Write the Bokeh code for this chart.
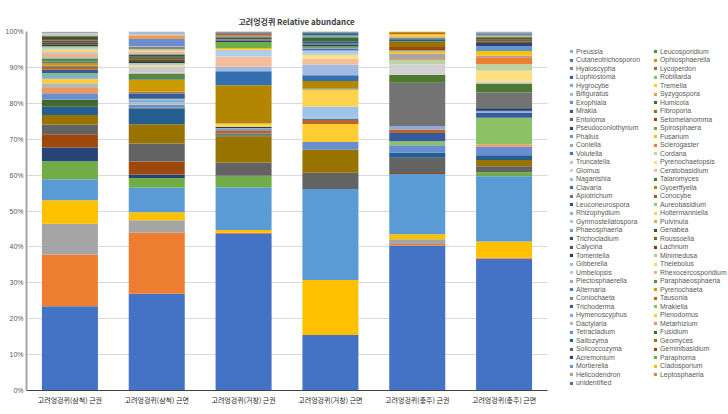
import numpy as np
from bokeh.plotting import figure
from bokeh.models import (ColumnDataSource, Legend, LegendItem, NumeralTickFormatter,
                          FixedTicker, Range1d, BoxAnnotation)
from bokeh.embed import file_html
from bokeh.resources import INLINE

samples = ["고려엉겅퀴(삼척) 근권", "고려엉겅퀴(삼척) 근면", "고려엉겅퀴(거창) 근권",
           "고려엉겅퀴(거창) 근면", "고려엉겅퀴(충주) 근권", "고려엉겅퀴(충주) 근면"]

# series in stacking order (bottom -> top)
genera = ["unidentified", "Leptosphaeria", "Helicodendron", "Cladosporium", "Mortierella",
          "Paraphoma", "Acremonium", "Geminibasidium", "Solicoccozyma", "Geomyces",
          "Saitozyma", "Fusidium", "Tetracladium", "Metarhizium", "Dactylaria",
          "Plenodomus", "Hymenoscyphus", "Mrakiella", "Trichoderma", "Tausonia",
          "Coniochaeta", "Pyrenochaeta", "Alternaria", "Paraphaeosphaeria", "Plectosphaerella",
          "Rhexocercosporidium", "Umbelopsis", "Thelebolus", "Gibberella", "Minimedusa",
          "Tomentella", "Lachnum", "Calycina", "Roussoella", "Trichocladium",
          "Genabea", "Phaeosphaeria", "Pulvinula", "Gymnostellatospora", "Holtermanniella",
          "Rhizophydium", "Aureobasidium", "Leuconeurospora", "Conocybe", "Apiotrichum",
          "Gyoerffyella", "Clavaria", "Talaromyces", "Naganishia", "Ceratobasidium",
          "Glomus", "Pyrenochaetopsis", "Truncatella", "Cordana", "Volutella",
          "Sclerogaster", "Coniella", "Fusarium", "Phallus", "Spirosphaera",
          "Pseudoconiothyrium", "Setomelanomma", "Entoloma", "Fibroporia", "Mrakia",
          "Humicola", "Exophiala", "Syzygospora", "Bifiguratus", "Tremella",
          "Hygrocybe", "Robillarda", "Lophiostoma", "Lycoperdon", "Hyaloscypha",
          "Ophiosphaerella", "Cutaneotrichosporon", "Leucosporidium", "Preussia"]

palette54 = ["#4472C4", "#ED7D31", "#A5A5A5", "#FFC000", "#5B9BD5", "#70AD47",
             "#264478", "#9E480E", "#636363", "#997300", "#255E91", "#43682B",
             "#698ED0", "#F1975A", "#B7B7B7", "#FFCD33", "#7CAFDD", "#8CC168",
             "#365B9D", "#BE6427", "#848484", "#CC9A00", "#497CAA", "#5A8A39",
             "#8FAADC", "#F4B183", "#C9C9C9", "#FFD966", "#9DC3E6", "#A9D18E",
             "#223962", "#773E18", "#535353", "#806000", "#2E4E6B", "#385724",
             "#7C9CD6", "#F2A46F", "#C0C0C0", "#FFD34D", "#8CB9E2", "#9BC67E",
             "#305089", "#A65822", "#737373", "#B38600", "#3370B0", "#4E7932",
             "#A2B9E2", "#F6BE98", "#D2D2D2", "#FFE080", "#ADCDEA", "#B8D6A3"]

samcheok_root = {
    "unidentified": 23.3, "Leptosphaeria": 14.3, "Helicodendron": 8.5, "Cladosporium": 6.5,
    "Mortierella": 5.8, "Paraphoma": 5.0, "Acremonium": 3.8, "Geminibasidium": 3.7,
    "Solicoccozyma": 2.7, "Geomyces": 2.6, "Saitozyma": 2.3, "Fusidium": 1.9,
    "Tetracladium": 1.8, "Metarhizium": 1.5, "Dactylaria": 1.3, "Plenodomus": 1.2,
    "Hymenoscyphus": 1.1, "Mrakiella": 0.5, "Trichoderma": 0.9, "Tausonia": 0.8,
    "Coniochaeta": 0.4, "Pyrenochaeta": 0.7, "Alternaria": 0.4, "Paraphaeosphaeria": 0.8,
    "Plectosphaerella": 0.4, "Rhexocercosporidium": 0.9, "Umbelopsis": 0.5, "Thelebolus": 0.7,
    "Gibberella": 0.4, "Minimedusa": 0.5, "Tomentella": 0.5, "Lachnum": 0.5,
    "Calycina": 0.6, "Roussoella": 0.4, "Trichocladium": 0.3, "Genabea": 0.5,
    "Phaeosphaeria": 0.2, "Pulvinula": 0.2, "Gymnostellatospora": 0.2, "Holtermanniella": 0.1,
    "Rhizophydium": 0.1, "Aureobasidium": 0.1, "Conocybe": 0.1, "Clavaria": 0.1,
    "Naganishia": 0.1, "Truncatella": 0.1}

samcheok_surface = {
    "unidentified": 26.9, "Leptosphaeria": 17.0, "Helicodendron": 3.5, "Cladosporium": 2.2,
    "Mortierella": 6.8, "Paraphoma": 2.7, "Acremonium": 1.0, "Geminibasidium": 3.6,
    "Solicoccozyma": 5.0, "Geomyces": 5.4, "Saitozyma": 4.4, "Fusidium": 0.2,
    "Tetracladium": 0.8, "Metarhizium": 0.1, "Dactylaria": 0.4, "Plenodomus": 0.1,
    "Hymenoscyphus": 0.9, "Mrakiella": 0.2, "Trichoderma": 1.4, "Tausonia": 0.2,
    "Coniochaeta": 0.3, "Pyrenochaeta": 3.4, "Alternaria": 0.2, "Paraphaeosphaeria": 1.4,
    "Plectosphaerella": 0.2, "Rhexocercosporidium": 0.2, "Umbelopsis": 1.6, "Thelebolus": 0.4,
    "Gibberella": 0.3, "Minimedusa": 0.3, "Tomentella": 0.3, "Lachnum": 0.3,
    "Calycina": 0.5, "Roussoella": 0.4, "Trichocladium": 0.3, "Genabea": 0.6,
    "Phaeosphaeria": 0.2, "Pulvinula": 0.4, "Gymnostellatospora": 0.2, "Holtermanniella": 0.3,
    "Rhizophydium": 0.2, "Aureobasidium": 0.2, "Leuconeurospora": 0.2, "Conocybe": 0.3,
    "Clavaria": 0.1, "Glomus": 0.1, "Exophiala": 2.1, "Syzygospora": 1.0,
    "Bifiguratus": 0.3, "Tremella": 0.2, "Hygrocybe": 0.3, "Preussia": 0.3}

geochang_root = {
    "unidentified": 43.6, "Leptosphaeria": 0.3, "Helicodendron": 0.1, "Cladosporium": 0.7,
    "Mortierella": 11.9, "Paraphoma": 3.1, "Acremonium": 0.1, "Geminibasidium": 0.1,
    "Solicoccozyma": 3.6, "Geomyces": 7.3, "Saitozyma": 0.2, "Fusidium": 0.4,
    "Trichoderma": 0.2, "Tausonia": 0.8, "Alternaria": 0.4, "Plectosphaerella": 0.3,
    "Tomentella": 0.3, "Holtermanniella": 1.0, "Gyoerffyella": 10.6, "Clavaria": 3.9,
    "Naganishia": 1.3, "Ceratobasidium": 2.7, "Glomus": 0.2, "Truncatella": 1.9,
    "Fusarium": 0.4, "Spirosphaera": 1.7, "Pseudoconiothyrium": 0.3, "Entoloma": 0.3,
    "Fibroporia": 0.2, "Mrakia": 0.4, "Humicola": 0.2, "Syzygospora": 0.2,
    "Lophiostoma": 0.2, "Lycoperdon": 0.4, "Hyaloscypha": 0.5, "Cutaneotrichosporon": 0.2}

geochang_surface = {
    "unidentified": 15.5, "Cladosporium": 15.3, "Mortierella": 25.4, "Solicoccozyma": 4.5,
    "Geomyces": 6.4, "Tetracladium": 2.2, "Plenodomus": 5.0, "Tausonia": 1.1,
    "Alternaria": 0.4, "Plectosphaerella": 0.3, "Gibberella": 3.1, "Holtermanniella": 4.7,
    "Apiotrichum": 0.3, "Gyoerffyella": 2.1, "Clavaria": 1.6, "Naganishia": 3.0,
    "Ceratobasidium": 1.6, "Pyrenochaetopsis": 1.1, "Truncatella": 1.2, "Volutella": 0.4,
    "Coniella": 0.3, "Spirosphaera": 0.4, "Pseudoconiothyrium": 0.5, "Entoloma": 0.4,
    "Mrakia": 0.6, "Humicola": 0.9, "Exophiala": 0.3, "Robillarda": 0.4,
    "Lophiostoma": 0.4, "Cutaneotrichosporon": 0.4, "Leucosporidium": 0.3}

chungju_root = {
    "unidentified": 40.4, "Leptosphaeria": 0.4, "Helicodendron": 1.3, "Cladosporium": 1.4,
    "Mortierella": 16.8, "Geminibasidium": 0.3, "Solicoccozyma": 4.2, "Saitozyma": 1.4,
    "Tetracladium": 2.1, "Mrakiella": 1.1, "Trichoderma": 2.3, "Tausonia": 1.0,
    "Plectosphaerella": 1.0, "Apiotrichum": 12.0, "Talaromyces": 2.2, "Glomus": 2.9,
    "Cordana": 1.2, "Sclerogaster": 0.3, "Coniella": 1.6, "Fusarium": 0.6,
    "Phallus": 0.3, "Setomelanomma": 0.9, "Fibroporia": 1.6, "Mrakia": 0.4,
    "Humicola": 0.2, "Exophiala": 0.3, "Bifiguratus": 0.3, "Tremella": 0.7,
    "Lycoperdon": 0.4, "Ophiosphaerella": 0.4}

chungju_surface = {
    "unidentified": 36.7, "Leptosphaeria": 0.3, "Cladosporium": 4.5, "Mortierella": 18.2,
    "Paraphoma": 1.1, "Solicoccozyma": 1.7, "Geomyces": 1.7, "Saitozyma": 1.3,
    "Tetracladium": 2.5, "Metarhizium": 0.6, "Mrakiella": 7.4, "Trichoderma": 1.4,
    "Plectosphaerella": 0.5, "Tomentella": 0.7, "Apiotrichum": 4.4, "Talaromyces": 2.5,
    "Glomus": 0.6, "Pyrenochaetopsis": 3.0, "Cordana": 1.8, "Sclerogaster": 1.9,
    "Coniella": 0.5, "Fusarium": 1.3, "Phallus": 1.3, "Pseudoconiothyrium": 0.9,
    "Setomelanomma": 0.5, "Entoloma": 0.3, "Fibroporia": 0.3, "Mrakia": 0.4,
    "Humicola": 0.3, "Tremella": 0.3, "Lophiostoma": 0.3, "Hyaloscypha": 0.3,
    "Cutaneotrichosporon": 0.2, "Preussia": 0.3}

sample_values = [samcheok_root, samcheok_surface, geochang_root,
                 geochang_surface, chungju_root, chungju_surface]

colors = [palette54[i % len(palette54)] for i in range(len(genera))]

raw = np.array([[d.get(g, 0.0) for g in genera] for d in sample_values], dtype=float)
pct = raw / raw.sum(axis=1, keepdims=True)
xpos = [i + 0.5 for i in range(len(samples))]
data = {"x": xpos}
for j, g in enumerate(genera):
    data[g] = pct[:, j]
source = ColumnDataSource(data)

W, H = 728, 414
LEFT, TOP, BOTTOM = 26, 31, 24
PLOT_RIGHT = 547                       # right edge of the bar area in page pixels
n = len(samples)
x_end = n * (W - LEFT) / (PLOT_RIGHT - LEFT)

p = figure(width=W, height=H, output_backend="svg", toolbar_location=None,
           x_range=Range1d(0, x_end), y_range=Range1d(0, 1),
           min_border_left=LEFT, min_border_right=0,
           min_border_top=TOP, min_border_bottom=BOTTOM,
           title="고려엉겅퀴 Relative abundance")
p.outline_line_color = None
p.background_fill_color = "white"
p.title.align = "left"
p.title.offset = 212
p.title.text_font = "Noto Sans CJK KR"
p.title.text_font_size = "8px"
p.title.text_font_style = "bold"
p.title.text_color = "#404040"

renderers = p.vbar_stack(genera, x="x", width=0.645, color=colors,
                         source=source, line_color=None)

for ax in (p.xaxis[0], p.yaxis[0]):
    ax.major_tick_out = 0
    ax.major_tick_in = 0
    ax.minor_tick_out = 0
    ax.minor_tick_in = 0
    ax.major_tick_line_color = None
    ax.minor_tick_line_color = None

p.yaxis.ticker = FixedTicker(ticks=[i / 10 for i in range(11)])
p.yaxis.formatter = NumeralTickFormatter(format="0%")
p.yaxis.axis_line_color = "#A6A6A6"
p.yaxis.axis_line_width = 2
p.yaxis.major_label_text_font = "Liberation Sans"
p.yaxis.major_label_text_font_size = "7px"
p.yaxis.major_label_text_color = "#595959"
p.yaxis.major_label_standoff = 3

p.xaxis.ticker = FixedTicker(ticks=xpos)
p.xaxis.major_label_overrides = {x: s for x, s in zip(xpos, samples)}
p.xaxis.bounds = (0, n)
p.xaxis.axis_line_color = "#404040"
p.xaxis.axis_line_width = 1
p.xaxis.major_label_text_font = "Noto Sans CJK KR"
p.xaxis.major_label_text_font_size = "7px"
p.xaxis.major_label_text_color = "#262626"
p.xaxis.major_label_standoff = 4
p.xgrid.grid_line_color = None
p.ygrid.grid_line_color = "#D9D9D9"
p.ygrid.grid_line_width = 1

# blank out the gridlines in the legend area (right of the bars)
p.add_layout(BoxAnnotation(left=n, fill_color="white", fill_alpha=1,
                           line_color=None, level="underlay"))

# legend: two columns read row-wise, last series first (as in the spreadsheet legend)
left_col = list(range(78, -1, -2))
right_col = list(range(77, 0, -2))
ROW0, PITCH, ROW_H = 51.0, 8.51, 7.0    # page-pixel centre of first row, row pitch
frame_bottom = H - BOTTOM

def add_row(idx, col_x, row):
    centre = ROW0 + row * PITCH
    leg = Legend(items=[LegendItem(label=genera[idx], renderers=[renderers[idx]])],
                 location=(col_x - LEFT, frame_bottom - centre - ROW_H / 2))
    leg.label_text_font = "Liberation Sans"
    leg.label_text_font_size = "6.9px"
    leg.label_text_color = "#595959"
    leg.glyph_width = 4
    leg.glyph_height = 4
    leg.label_standoff = 3
    leg.label_width = 10
    leg.label_height = 0
    leg.spacing = 0
    leg.padding = 0
    leg.margin = 0
    leg.border_line_color = None
    leg.background_fill_alpha = 0
    leg.click_policy = "none"
    p.add_layout(leg)

for r, idx in enumerate(left_col):
    add_row(idx, 569, r)
for r, idx in enumerate(right_col):
    add_row(idx, 653, r)

open("out.html", "w").write(file_html(p, INLINE))
